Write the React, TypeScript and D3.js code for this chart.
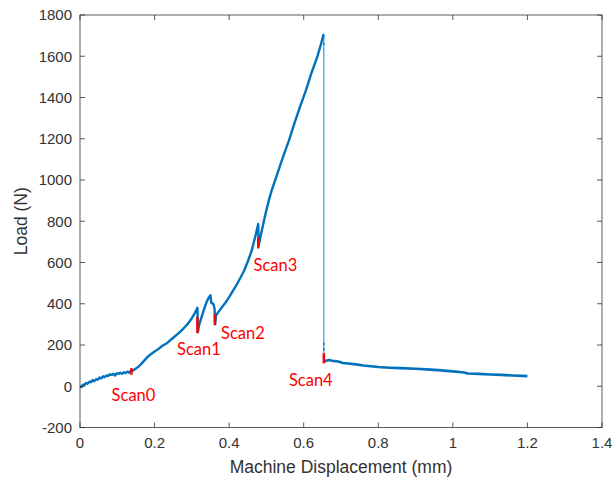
import React from 'react';
import { scaleLinear, line } from 'd3';

// load vs machine displacement
const preFailure: [number, number][] = [
  [0, 0], [0.004, -4], [0.008, 8], [0.012, 6], [0.016, 16], [0.02, 12], [0.025, 22], [0.03, 20],
  [0.034, 30], [0.038, 24], [0.043, 34], [0.048, 32], [0.052, 42], [0.057, 38], [0.062, 48],
  [0.066, 44], [0.071, 52], [0.076, 50], [0.08, 58], [0.085, 55], [0.09, 61], [0.094, 52],
  [0.099, 63], [0.104, 60], [0.108, 66], [0.113, 60], [0.118, 68], [0.122, 64], [0.127, 71],
  [0.132, 66], [0.136, 75], [0.14, 74], [0.145, 80], [0.15, 86], [0.156, 94], [0.162, 104],
  [0.168, 116], [0.174, 128], [0.18, 140], [0.186, 150], [0.192, 158], [0.2, 168], [0.21, 180],
  [0.22, 195], [0.234, 210], [0.25, 235], [0.26, 250], [0.27, 266], [0.28, 285], [0.29, 305],
  [0.3, 330], [0.308, 355], [0.315, 380], [0.316, 262], [0.32, 300], [0.326, 335], [0.333, 375],
  [0.34, 410], [0.346, 432], [0.35, 441], [0.352, 405], [0.355, 402], [0.358, 398], [0.361, 375],
  [0.362, 300], [0.365, 344], [0.372, 362], [0.38, 382], [0.39, 405], [0.4, 432], [0.41, 462],
  [0.42, 492], [0.43, 525], [0.44, 560], [0.45, 605], [0.46, 655], [0.47, 725], [0.478, 787],
  [0.479, 680], [0.484, 725], [0.49, 775], [0.498, 840], [0.507, 905], [0.515, 955],
  [0.53, 1035], [0.545, 1115], [0.56, 1190], [0.575, 1275], [0.59, 1355], [0.605, 1430],
  [0.62, 1515], [0.635, 1590], [0.645, 1650], [0.653, 1705],
];

const dropPoints: [number, number][] = [
  [0.653, 1705], [0.6535, 1690], [0.654, 1660], [0.654, 205], [0.654, 180], [0.654, 130], [0.654, 118],
];

const postFailure: [number, number][] = [
  [0.654, 118], [0.66, 124], [0.668, 127], [0.676, 124], [0.685, 122], [0.695, 119], [0.705, 113],
  [0.72, 110], [0.74, 106], [0.76, 101], [0.78, 97], [0.8, 93], [0.83, 90], [0.86, 88], [0.9, 85],
  [0.93, 82], [0.96, 78], [1.0, 72], [1.03, 67], [1.04, 62], [1.07, 60], [1.1, 57], [1.13, 55],
  [1.16, 52], [1.2, 49],
];

const scanNames = ['Scan0', 'Scan1', 'Scan2', 'Scan3', 'Scan4'];
const scanX = [0.138, 0.315, 0.362, 0.478, 0.654];
const scanLow = [56, 258, 298, 668, 111];
const scanHigh = [88, 336, 350, 722, 160];
const scanLabelX = [0.1435, 0.319, 0.437, 0.524, 0.619];
const scanLabelY = [-71, 152, 229, 559, 1];

const xTicks = [0, 0.2, 0.4, 0.6, 0.8, 1, 1.2, 1.4];
const yTicks = [-200, 0, 200, 400, 600, 800, 1000, 1200, 1400, 1600, 1800];

const W = 614;
const H = 484;
const left = 80;
const right = 602;
const top = 15;
const bottom = 427.5;

export default function App() {
  const x = scaleLinear().domain([0, 1.4]).range([left, right]);
  const y = scaleLinear().domain([-200, 1800]).range([bottom, top]);
  const path = line<[number, number]>().x(d => x(d[0])).y(d => y(d[1]));

  const axisColor = '#262626';
  const blue = '#0072BD';

  return (
    <div style={{ position: 'absolute', left: 0, top: 0 }}>
      <svg width={W} height={H} style={{ display: 'block', background: '#fff' }}>
        {/* data */}
        <path d={path(dropPoints) ?? ''} fill="none" stroke={blue} strokeOpacity={0.75} strokeWidth={1.2} />
        {dropPoints.map((d, i) => (
          <circle key={i} cx={x(d[0])} cy={y(d[1])} r={1.1} fill={blue} fillOpacity={0.8} />
        ))}
        <path d={path(preFailure) ?? ''} fill="none" stroke={blue} strokeWidth={2.4} strokeLinejoin="round" />
        <path d={path(postFailure) ?? ''} fill="none" stroke={blue} strokeWidth={2.6} strokeLinejoin="round" />

        {/* scan markers */}
        {scanNames.map((name, i) => (
          <g key={name}>
            <line x1={x(scanX[i])} x2={x(scanX[i])} y1={y(scanLow[i])} y2={y(scanHigh[i])}
              stroke="#ff0000" strokeWidth={2.5} />
            <text x={x(scanLabelX[i])} y={y(scanLabelY[i])} textAnchor="middle" fill="#ff0000"
              fontFamily="Lato, 'Noto Sans', sans-serif" fontSize={16.5}>{name}</text>
          </g>
        ))}

        {/* axes box */}
        <rect x={left} y={top} width={right - left} height={bottom - top} fill="none" stroke={axisColor} strokeOpacity={0.75} strokeWidth={1} />
        {xTicks.map(t => (
          <g key={'x' + t}>
            <line x1={x(t)} x2={x(t)} y1={bottom} y2={bottom - 5} stroke={axisColor} strokeOpacity={0.75} />
            <line x1={x(t)} x2={x(t)} y1={top} y2={top + 5} stroke={axisColor} strokeOpacity={0.75} />
            <text x={x(t)} y={bottom + 20} textAnchor="middle" fill="#333"
              fontFamily="'Liberation Sans', Arial, sans-serif" fontSize={15}>{t}</text>
          </g>
        ))}
        {yTicks.map(t => (
          <g key={'y' + t}>
            <line x1={left} x2={left + 5} y1={y(t)} y2={y(t)} stroke={axisColor} strokeOpacity={0.75} />
            <line x1={right} x2={right - 5} y1={y(t)} y2={y(t)} stroke={axisColor} strokeOpacity={0.75} />
            <text x={left - 8} y={y(t)} dy="0.35em" textAnchor="end" fill="#333"
              fontFamily="'Liberation Sans', Arial, sans-serif" fontSize={15}>{t}</text>
          </g>
        ))}
        <text x={(left + right) / 2} y={473} textAnchor="middle" fill="#333"
          fontFamily="'Liberation Sans', Arial, sans-serif" fontSize={17.5}>Machine Displacement (mm)</text>
        <text transform={`translate(27,${(top + bottom) / 2}) rotate(-90)`} textAnchor="middle" fill="#333"
          fontFamily="'Liberation Sans', Arial, sans-serif" fontSize={17.5}>Load (N)</text>
      </svg>
    </div>
  );
}
